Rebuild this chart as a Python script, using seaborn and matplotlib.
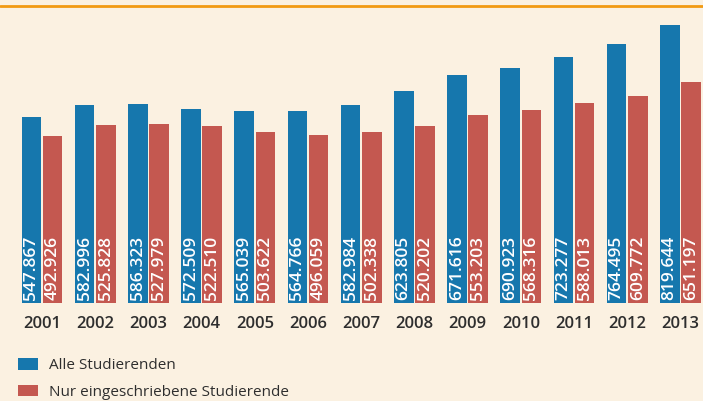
import matplotlib
matplotlib.use("Agg")
import matplotlib.pyplot as plt
import seaborn as sns
import pandas as pd
from matplotlib.patches import Patch
from matplotlib.lines import Line2D

years = ["2001", "2002", "2003", "2004", "2005", "2006", "2007",
         "2008", "2009", "2010", "2011", "2012", "2013"]
alle = [547867, 582996, 586323, 572509, 565039, 564766, 582984,
        623805, 671616, 690923, 723277, 764495, 819644]
eingeschrieben = [492926, 525828, 527979, 522510, 503622, 496059, 502338,
                  520202, 553203, 568316, 588013, 609772, 651197]
series_names = ["Alle Studierenden", "Nur eingeschriebene Studierende"]

BG = "#fbf1e1"
BLUE = "#1677ad"
RED = "#c45850"
TEXT = "#2e2e2e"

df = pd.DataFrame({
    "Jahr": years * 2,
    "Wert": alle + eingeschrieben,
    "Reihe": [series_names[0]] * len(years) + [series_names[1]] * len(years),
})

sns.set_theme(style="white")
plt.rcParams["font.family"] = ["Open Sans", "DejaVu Sans"]

fig = plt.figure(figsize=(7.03, 4.01), dpi=100, facecolor=BG)
ax = fig.add_axes([0.0, 98 / 401, 1.0, 297 / 401])
ax.set_facecolor(BG)

sns.barplot(data=df, x="Jahr", y="Wert", hue="Reihe", ax=ax,
            palette=[BLUE, RED], width=0.8, gap=0.08,
            saturation=1, legend=False, errorbar=None, linewidth=0)

ax.set_xlim(-0.789, 12.425)
ax.set_ylim(0, 875000)
for s in ax.spines.values():
    s.set_visible(False)
ax.set_yticks([])
ax.set_xlabel("")
ax.set_ylabel("")
ax.tick_params(axis="x", length=0, pad=9, labelsize=12, labelcolor=TEXT)
for t in ax.get_xticklabels():
    t.set_fontweight("semibold")

# value labels rotated inside the bars
for container, vals in zip(ax.containers, [alle, eingeschrieben]):
    for patch, v in zip(container.patches, vals):
        label = f"{v:,}".replace(",", ".")
        ax.text(patch.get_x() + patch.get_width() / 2, 10000, label,
                rotation=90, ha="center", va="bottom", color="white",
                fontsize=12.5, fontweight="semibold")

# orange rule at the top
fig.add_artist(Line2D([0, 1], [1 - 6 / 401, 1 - 6 / 401], color="#f29a12",
                      lw=2, transform=fig.transFigure))

handles = [Patch(facecolor=BLUE, edgecolor="none"),
           Patch(facecolor=RED, edgecolor="none")]
leg = fig.legend(handles, series_names, loc="lower left",
                 bbox_to_anchor=(12 / 703, -5 / 401), frameon=False,
                 fontsize=11, handlelength=1.3, handleheight=0.8,
                 labelspacing=0.75, handletextpad=0.7, borderaxespad=0)
for t in leg.get_texts():
    t.set_color(TEXT)

fig.savefig("out.png", dpi=100, facecolor=BG)
